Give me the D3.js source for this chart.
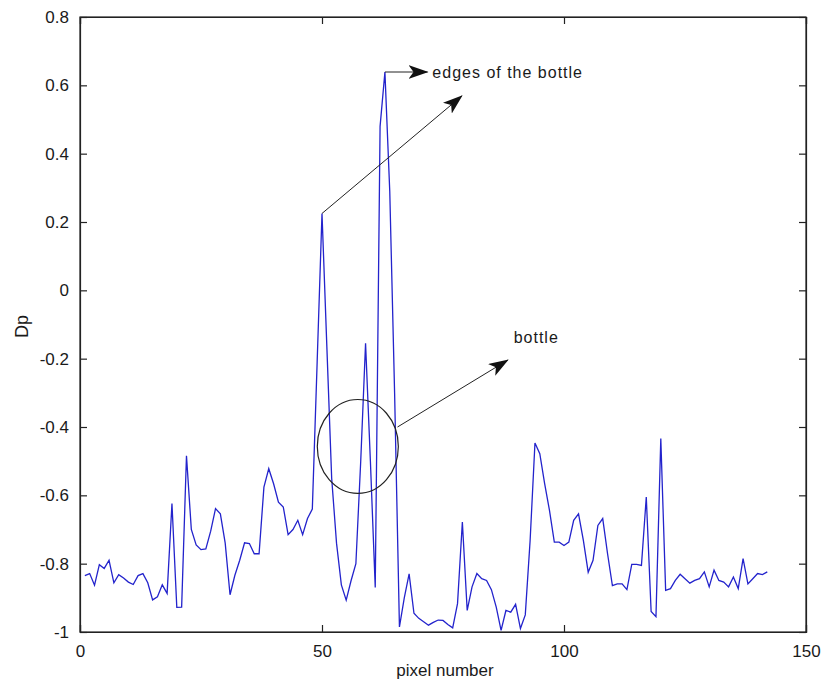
<!DOCTYPE html>
<html>
<head>
<meta charset="utf-8">
<script src="https://cdn.jsdelivr.net/npm/d3@7"></script>
<style>
  html, body { margin: 0; padding: 0; background: #fff; }
  svg text { font-family: "Liberation Sans", Arial, Helvetica, sans-serif; fill: #1a1a1a; }
</style>
</head>
<body>
<svg id="chart" width="827" height="690"></svg>
<script>
// Dp profile along one image row (pixel index 1..142)
const dpValues = [
  -0.835, -0.829, -0.863, -0.803, -0.814, -0.790, -0.856, -0.832, -0.842, -0.854,
  -0.861, -0.835, -0.829, -0.856, -0.906, -0.897, -0.862, -0.887, -0.624, -0.928,
  -0.927, -0.484, -0.700, -0.745, -0.759, -0.757, -0.705, -0.639, -0.654, -0.740,
  -0.891, -0.834, -0.790, -0.739, -0.741, -0.771, -0.771, -0.576, -0.522, -0.566,
  -0.620, -0.634, -0.715, -0.700, -0.673, -0.715, -0.668, -0.640, -0.210,  0.225,
  -0.164, -0.550, -0.740, -0.862, -0.907, -0.850, -0.800, -0.500, -0.155, -0.500,
  -0.870,  0.480,  0.639,  0.290, -0.300, -0.985, -0.900, -0.830, -0.945, -0.960,
  -0.970, -0.980, -0.972, -0.965, -0.966, -0.978, -0.988, -0.917, -0.678, -0.937,
  -0.868, -0.829, -0.844, -0.849, -0.876, -0.927, -0.995, -0.937, -0.942, -0.919,
  -0.990, -0.950, -0.732, -0.447, -0.478, -0.566, -0.644, -0.737, -0.737, -0.747,
  -0.737, -0.673, -0.654, -0.732, -0.825, -0.790, -0.688, -0.668, -0.771, -0.864,
  -0.859, -0.859, -0.876, -0.802, -0.802, -0.805, -0.605, -0.940, -0.955, -0.434,
  -0.878, -0.873, -0.849, -0.831, -0.844, -0.857, -0.849, -0.844, -0.824, -0.868,
  -0.819, -0.849, -0.854, -0.868, -0.839, -0.873, -0.785, -0.859, -0.844, -0.829,
  -0.832, -0.824
];
const pixelIndex = dpValues.map((_, i) => i + 1);

const xTicks = [0, 50, 100, 150];
const yTicks = [0.8, 0.6, 0.4, 0.2, 0, -0.2, -0.4, -0.6, -0.8, -1];
const xTitle = "pixel number";
const yTitle = "Dp";

// annotation anchors in data units
const edgeArrows = [
  { from: [50, 0.225], to: [78.9, 0.569] },
  { from: [63, 0.639], to: [71.8, 0.639] }
];
const edgeLabel = { text: "edges of the bottle", at: [72.8, 0.635] };
const bottleRing = { center: [57.4, -0.457], rx: 8.37, ry: 0.1375 };
const bottleArrow = { from: [65.6, -0.400], to: [88.4, -0.204] };
const bottleLabel = { text: "bottle", at: [89.6, -0.143] };

const svg = d3.select("#chart");
const plotL = 80, plotR = 806, plotT = 17, plotB = 632;

const x = d3.scaleLinear().domain([0, 150]).range([plotL, plotR]);
const y = d3.scaleLinear().domain([-1, 0.8]).range([plotB, plotT]);

const axisColor = "#222";
const tickLen = 7;
const fontSize = 17;

// plot box
svg.append("rect")
  .attr("x", plotL).attr("y", plotT)
  .attr("width", plotR - plotL).attr("height", plotB - plotT)
  .attr("fill", "#fff").attr("stroke", axisColor).attr("stroke-width", 1.2);

// bottom / top axes (ticks pointing inward)
const xAxisB = d3.axisBottom(x).tickValues(xTicks).tickSize(-tickLen).tickPadding(tickLen + 6).tickFormat(d3.format("d"));
const gxb = svg.append("g").attr("transform", `translate(0,${plotB})`).call(xAxisB);
const xAxisT = d3.axisTop(x).tickValues(xTicks).tickSize(-tickLen).tickFormat("");
const gxt = svg.append("g").attr("transform", `translate(0,${plotT})`).call(xAxisT);

// left / right axes
const yAxisL = d3.axisLeft(y).tickValues(yTicks).tickSize(-tickLen).tickPadding(tickLen + 4)
  .tickFormat(d => d === 0 ? "0" : String(+d.toFixed(1)));
const gyl = svg.append("g").attr("transform", `translate(${plotL},0)`).call(yAxisL);
const yAxisR = d3.axisRight(y).tickValues(yTicks).tickSize(-tickLen).tickFormat("");
const gyr = svg.append("g").attr("transform", `translate(${plotR},0)`).call(yAxisR);

[gxb, gxt, gyl, gyr].forEach(g => {
  g.select(".domain").attr("stroke", axisColor).attr("stroke-width", 1.2);
  g.selectAll(".tick line").attr("stroke", axisColor).attr("stroke-width", 1.2);
  g.selectAll(".tick text")
    .attr("font-size", fontSize)
    .attr("font-family", "'Liberation Sans', Arial, sans-serif")
    .attr("fill", "#1a1a1a");
});

// axis titles
svg.append("text")
  .attr("x", (plotL + plotR) / 2 + 2).attr("y", 676)
  .attr("text-anchor", "middle").attr("font-size", fontSize)
  .text(xTitle);
svg.append("text")
  .attr("transform", `translate(28,${(plotT + plotB) / 2 + 2}) rotate(-90)`)
  .attr("text-anchor", "middle").attr("font-size", 18)
  .text(yTitle);

// data line
const line = d3.line().x((d, i) => x(pixelIndex[i])).y(d => y(d));
svg.append("path")
  .datum(dpValues)
  .attr("d", line)
  .attr("fill", "none")
  .attr("stroke", "#2323cc")
  .attr("stroke-width", 1.3)
  .attr("stroke-linejoin", "miter");

// arrow head marker
const defs = svg.append("defs");
defs.append("marker")
  .attr("id", "head")
  .attr("viewBox", "0 0 20 14")
  .attr("refX", 19).attr("refY", 7)
  .attr("markerWidth", 20).attr("markerHeight", 14)
  .attr("markerUnits", "userSpaceOnUse")
  .attr("orient", "auto")
  .append("path")
  .attr("d", "M0,0 L20,7 L0,14 L5,7 Z")
  .attr("fill", "#111");

const ann = svg.append("g").attr("stroke", "#222").attr("fill", "none").attr("stroke-width", 1);

edgeArrows.concat([bottleArrow]).forEach(a => {
  ann.append("line")
    .attr("x1", x(a.from[0])).attr("y1", y(a.from[1]))
    .attr("x2", x(a.to[0])).attr("y2", y(a.to[1]))
    .attr("marker-end", "url(#head)");
});

ann.append("ellipse")
  .attr("cx", x(bottleRing.center[0])).attr("cy", y(bottleRing.center[1]))
  .attr("rx", x(bottleRing.rx) - x(0))
  .attr("ry", y(0) - y(bottleRing.ry))
  .attr("stroke", "#222").attr("stroke-width", 1.2);

[edgeLabel, bottleLabel].forEach(t => {
  svg.append("text")
    .attr("x", x(t.at[0])).attr("y", y(t.at[1]))
    .attr("dominant-baseline", "middle")
    .attr("font-size", 16)
    .attr("letter-spacing", 1)
    .text(t.text);
});
</script>
</body>
</html>
